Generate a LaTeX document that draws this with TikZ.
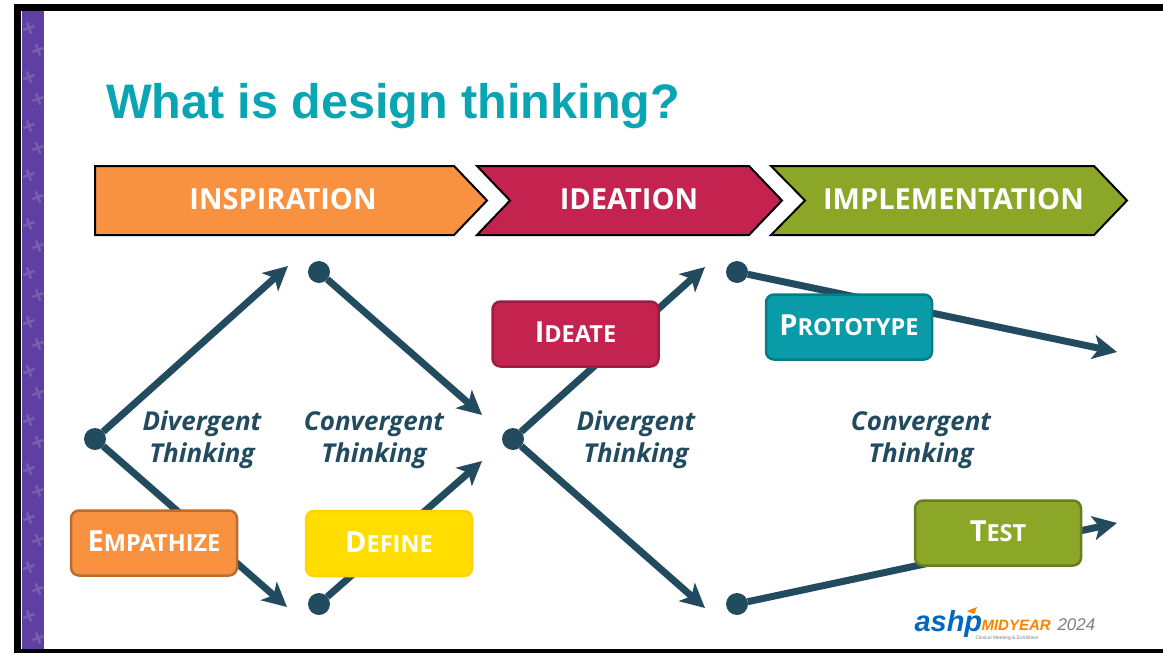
\documentclass[tikz,border=0pt]{standalone}
\usepackage{fontspec}
\setmainfont{Open Sans}
\newfontfamily\titlefont{Liberation Sans}
\usepackage{tikz}
\usetikzlibrary{arrows.meta}
\tikzset{>={Stealth[width=24pt,length=24pt,inset=6pt]}}
\definecolor{stripcol}{HTML}{5F3FA3}
\definecolor{starcol}{HTML}{7560B0}
\definecolor{titlecol}{HTML}{0AA5B2}
\definecolor{linecol}{HTML}{224B60}
\definecolor{orangecol}{HTML}{F99240}
\definecolor{crimsoncol}{HTML}{C5234F}
\definecolor{olivecol}{HTML}{8CA728}
\definecolor{yellowcol}{HTML}{FFDD00}
\definecolor{tealcol}{HTML}{0A9BA8}
\newcommand{\capword}[2]{\raisebox{3.5pt}{{\fontsize{29}{30}\selectfont #1}{\fontsize{23.5}{26}\selectfont #2}}}

\begin{document}
\begin{tikzpicture}[x=1pt, y=-1pt, line width=7pt,
  phase/.style = {draw=black, line width=2pt, miter limit=10},
  phaselabel/.style = {inner sep=0pt, text=white, font=\bfseries\fontsize{29}{32}\selectfont},
  stepbox/.style = {rounded corners=8pt, line width=2.5pt, minimum width=166pt, minimum height=65pt, inner sep=0pt, text=white, font=\bfseries},
  dot/.style = {circle, fill=linecol, inner sep=0pt, outer sep=0pt, minimum size=22pt},
  flow/.style = {->, draw=linecol},
  thinking/.style = {align=center, text=linecol, font=\bfseries\itshape\fontsize{26}{32}\selectfont}]
\useasboundingbox (0,0) rectangle (1163,653);
% frame and strip
\fill[black] (14,4) rectangle (1163,653);
\fill[white] (21,11) rectangle (1163,649);
\fill[stripcol] (22,11) rectangle (44,649);
\foreach \y in {0,...,12} {
  \draw[starcol, line width=2.5pt, rotate around={20:(29,{28+\y*49})}] (23,{28+\y*49}) -- (35,{28+\y*49}) (29,{22+\y*49}) -- (29,{34+\y*49});
  \draw[starcol, line width=2.5pt, rotate around={20:(38,{50+\y*49})}] (32,{50+\y*49}) -- (44,{50+\y*49}) (38,{44+\y*49}) -- (38,{56+\y*49});
}
% title
\node[anchor=west, inner sep=0pt, text=titlecol, font=\titlefont\bfseries\fontsize{48.5}{52}\selectfont] (title) at (102.5,106) {What is design thinking?};
% phases
\draw[phase, fill=orangecol] (95,166) -- (454,166) -- (487,200.5) -- (454,235) -- (95,235) -- cycle;
\draw[phase, fill=crimsoncol] (477,166) -- (749,166) -- (782,200.5) -- (749,235) -- (477,235) -- (510,200.5) -- cycle;
\draw[phase, fill=olivecol] (771,166) -- (1094,166) -- (1127,200.5) -- (1094,235) -- (771,235) -- (805,200.5) -- cycle;
\node[phaselabel] (inspiration) at (283,199) {INSPIRATION};
\node[phaselabel] (ideation) at (629,199) {IDEATION};
\node[phaselabel] (implementation) at (953.5,199) {IMPLEMENTATION};
% connector dots and free ends
\node[dot] (start1) at (95,439) {};
\node[dot] (top1) at (319,272) {};
\node[dot] (bot1) at (319,604) {};
\node[dot] (start2) at (513,439) {};
\node[dot] (top2) at (737,272) {};
\node[dot] (bot2) at (737,604) {};
\coordinate (end1) at (288,266);
\coordinate (end2) at (287,607);
\coordinate (end3) at (482,415);
\coordinate (end4) at (482,461);
\coordinate (end5) at (705,267);
\coordinate (end6) at (705,608);
\coordinate (end7) at (1117,352);
\coordinate (end8) at (1117,523);
\draw[flow] (start1) -- (end1);
\draw[flow] (start1) -- (end2);
\draw[flow] (top1) -- (end3);
\draw[flow] (bot1) -- (end4);
\draw[flow] (start2) -- (end5);
\draw[flow] (start2) -- (end6);
\draw[flow] (top2) -- (end7);
\draw[flow] (bot2) -- (end8);
% boxes
\node[stepbox, fill=orangecol, draw=orangecol!75!black] (empathize) at (154,543) {\capword{E}{MPATHIZE}};
\node[stepbox, fill=yellowcol, draw=yellowcol!90!orange] (define) at (389,543.5) {\capword{D}{EFINE}};
\node[stepbox, fill=crimsoncol, draw=crimsoncol!80!black] (ideate) at (575.5,334) {\capword{I}{DEATE}};
\node[stepbox, fill=tealcol, draw=tealcol!80!black] (prototype) at (849,327) {\capword{P}{ROTOTYPE}};
\node[stepbox, fill=olivecol, draw=olivecol!75!black] (test) at (998,533) {\capword{T}{EST}};
% labels
\node[thinking] (div1) at (202,440) {Divergent\\Thinking};
\node[thinking] (con1) at (374,440) {Convergent\\Thinking};
\node[thinking] (div2) at (636,440) {Divergent\\Thinking};
\node[thinking] (con2) at (921,440) {Convergent\\Thinking};
% logo
\fill[orange] (967,611) -- (977,607) -- (974,614) -- cycle;
\node[anchor=west, inner sep=0pt, text=blue!45!cyan!75!black, font=\titlefont\bfseries\itshape\fontsize{29}{30}\selectfont] (ashp) at (911,624) {ashp};
\node[anchor=west, inner sep=0pt, text=orange, font=\titlefont\bfseries\itshape\fontsize{15}{16}\selectfont] (midyear) at (978,625) {MIDYEAR};
\node[anchor=west, inner sep=0pt, text=gray, font=\titlefont\itshape\fontsize{17}{18}\selectfont] (year) at (1054,625) {2024};
\node[anchor=west, inner sep=0pt, text=gray, font=\titlefont\fontsize{5}{6}\selectfont] (meeting) at (972,638) {Clinical Meeting \& Exhibition};
\end{tikzpicture}
\end{document}
